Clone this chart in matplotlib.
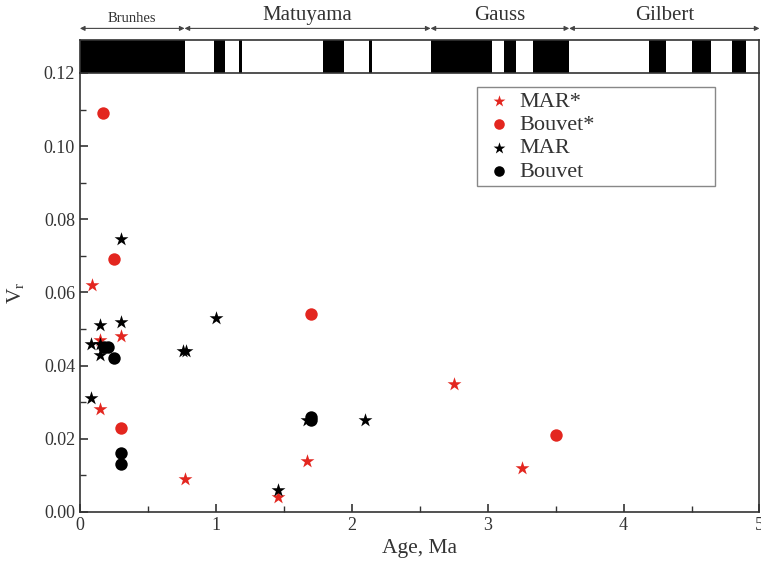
import matplotlib
matplotlib.use('Agg')
import matplotlib.pyplot as plt
from matplotlib.ticker import MultipleLocator

plt.rcParams['font.family'] = 'serif'
plt.rcParams['font.serif'] = ['Liberation Serif', 'DejaVu Serif']
plt.rcParams['mathtext.fontset'] = 'custom'
plt.rcParams['mathtext.rm'] = 'Liberation Serif'

# MAR* (red stars)
mar_s_age = [0.09, 0.15, 0.15, 0.30, 0.77, 1.46, 1.67, 2.75, 3.25]
mar_s_v = [0.062, 0.028, 0.047, 0.048, 0.009, 0.004, 0.014, 0.035, 0.012]
# Bouvet* (red circles)
bou_s_age = [0.17, 0.25, 0.30, 1.70, 3.50]
bou_s_v = [0.109, 0.069, 0.023, 0.054, 0.021]
# MAR (black stars)
mar_age = [0.30, 0.08, 0.15, 0.30, 0.15, 0.15, 0.08, 0.76, 0.78, 1.00, 1.46, 1.67, 2.10]
mar_v = [0.0745, 0.046, 0.051, 0.052, 0.046, 0.043, 0.031, 0.044, 0.044, 0.053, 0.006, 0.025, 0.025]
# Bouvet (black circles)
bou_age = [0.18, 0.21, 0.25, 0.30, 0.30, 1.70, 1.70]
bou_v = [0.045, 0.045, 0.042, 0.016, 0.013, 0.026, 0.025]

# normal polarity intervals (Ma)
normal = [(0.0, 0.77), (0.985, 1.07), (1.17, 1.19), (1.79, 1.94), (2.13, 2.15),
          (2.58, 3.03), (3.12, 3.21), (3.33, 3.60), (4.19, 4.31), (4.50, 4.64),
          (4.80, 4.90)]
chrons = ['Brunhes', 'Matuyama', 'Gauss', 'Gilbert']
chron_bounds = [(0.0, 0.77), (0.77, 2.58), (2.58, 3.60), (3.60, 5.0)]
chron_size = [10.5, 15, 15, 15]

RED = '#e3261f'
INK = '#333333'

fig = plt.figure(figsize=(7.61, 5.79), dpi=100)
ax = fig.add_axes([0.105, 0.116, 0.893, 0.758])
axb = fig.add_axes([0.105, 0.874, 0.893, 0.057], sharex=ax)

ax.scatter(mar_s_age, mar_s_v, marker='*', s=110, color=RED, lw=0, label='MAR*', zorder=3)
ax.scatter(bou_s_age, bou_s_v, marker='o', s=80, color=RED, lw=0, label='Bouvet*', zorder=3)
ax.scatter(mar_age, mar_v, marker='*', s=110, color='black', lw=0, label='MAR', zorder=3)
ax.scatter(bou_age, bou_v, marker='o', s=80, color='black', lw=0, label='Bouvet', zorder=3)

ax.set_xlim(0, 5)
ax.set_ylim(0, 0.12)
ax.xaxis.set_major_locator(MultipleLocator(1))
ax.xaxis.set_minor_locator(MultipleLocator(0.5))
ax.yaxis.set_major_locator(MultipleLocator(0.02))
ax.yaxis.set_minor_locator(MultipleLocator(0.01))
ax.yaxis.set_major_formatter(plt.FormatStrFormatter('%.2f'))
ax.tick_params(which='both', direction='in', top=False, right=False, labelsize=13,
               colors=INK, labelcolor=INK)
ax.tick_params(which='major', length=6, width=1.2)
ax.tick_params(which='minor', length=4, width=1.0)
for sp in ax.spines.values():
    sp.set_linewidth(1.2)
    sp.set_color(INK)
ax.spines['top'].set_visible(False)
ax.set_xlabel('Age, Ma', fontsize=15.5, color=INK)
ax.set_ylabel('V$_{\\rm r}$', fontsize=15.5, color=INK, labelpad=12)

leg = ax.legend(loc='upper left', bbox_to_anchor=(0.584, 0.731, 0.350, 0.237),
                mode='expand', fontsize=16, markerscale=0.85,
                frameon=True, fancybox=False, edgecolor='#888888', framealpha=1,
                handletextpad=0.1, borderpad=0.2, labelspacing=0.12,
                borderaxespad=0, handlelength=1.6)
leg.get_frame().set_linewidth(1.0)
for t in leg.get_texts():
    t.set_color(INK)

# polarity bar
for a, b in normal:
    axb.axvspan(a, b, color='black', lw=0)
axb.set_ylim(0, 1)
axb.set_yticks([])
axb.tick_params(axis='x', which='both', bottom=False, labelbottom=False)
for sp in axb.spines.values():
    sp.set_linewidth(1.2)
    sp.set_color(INK)

for name, (a, b), fs in zip(chrons, chron_bounds, chron_size):
    axb.annotate('', xy=(a, 1.35), xytext=(b, 1.35), xycoords='data',
                 arrowprops=dict(arrowstyle='<|-|>', color='#444444', lw=0.8,
                                 mutation_scale=7, shrinkA=0, shrinkB=0),
                 annotation_clip=False)
    axb.text((a + b) / 2, 1.45, name, ha='center', va='bottom', fontsize=fs,
             color=INK, clip_on=False)

fig.savefig('out.png', dpi=100)
